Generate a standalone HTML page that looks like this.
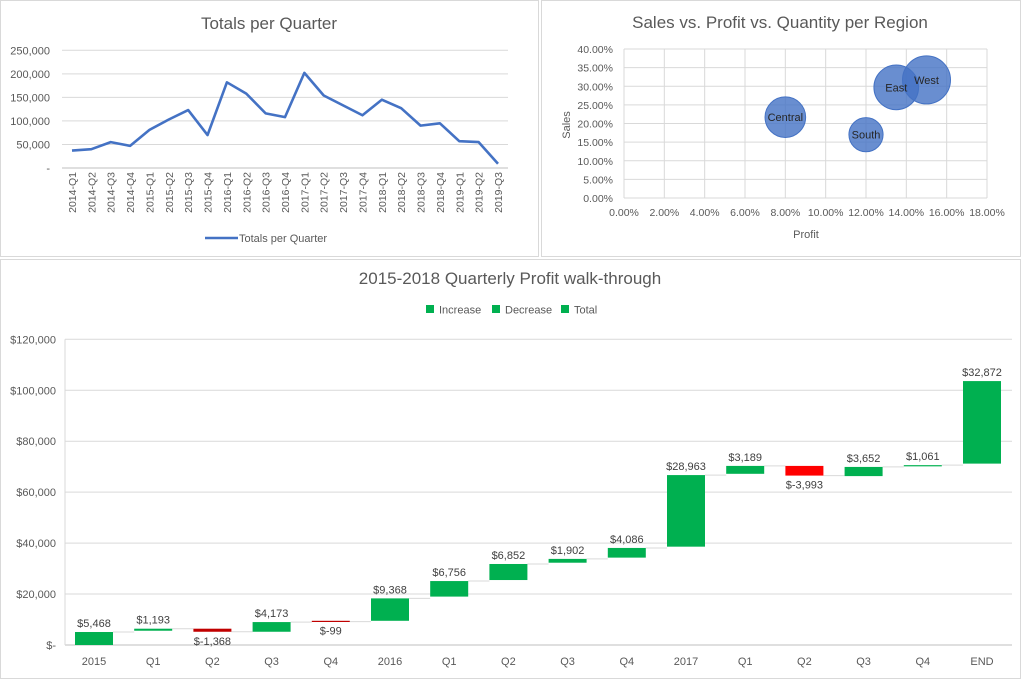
<!DOCTYPE html>
<html><head><meta charset="utf-8"><style>
html,body{margin:0;padding:0;background:#fff;width:1025px;height:682px;overflow:hidden}
svg{display:block;font-family:"Liberation Sans",sans-serif}
</style></head><body>
<svg id="root" width="1025" height="682" viewBox="0 0 1025 682">
<rect x="0.5" y="0.5" width="538" height="256" fill="#fff" stroke="#d9d9d9"/>
<rect x="541.5" y="0.5" width="479" height="256" fill="#fff" stroke="#d9d9d9"/>
<rect x="0.5" y="259.5" width="1020" height="419" fill="#fff" stroke="#d9d9d9"/>
<g id="line"></g><g id="bubble"></g><g id="wf"></g>
</svg>
<script>
// ---- line chart data
const lineCats=["2014-Q1","2014-Q2","2014-Q3","2014-Q4","2015-Q1","2015-Q2","2015-Q3","2015-Q4","2016-Q1","2016-Q2","2016-Q3","2016-Q4","2017-Q1","2017-Q2","2017-Q3","2017-Q4","2018-Q1","2018-Q2","2018-Q3","2018-Q4","2019-Q1","2019-Q2","2019-Q3"];
const lineVals=[37000,40000,55000,47000,81000,103000,123000,70000,182000,158000,116000,108000,202000,154000,133000,112000,145000,127000,90000,95000,57000,55000,9000];
const lineTicks=[0,50000,100000,150000,200000,250000];
const lineTickLabels=["-","50,000","100,000","150,000","200,000","250,000"];
// ---- bubble chart data
const regions=["Central","South","East","West"];
const profitPct=[8.0,12.0,13.5,15.0];
const salesPct=[21.7,17.0,29.7,31.7];
const quantity=[8780,6209,10618,12266];
const bxTicks=[0,2,4,6,8,10,12,14,16,18];
const byTicks=[0,5,10,15,20,25,30,35,40];
// ---- waterfall data
const wfCats=["2015","Q1","Q2","Q3","Q4","2016","Q1","Q2","Q3","Q4","2017","Q1","Q2","Q3","Q4","END"];
const wfStart=[0,5600,6400,5200,9500,9500,19000,25500,32300,34300,38600,67200,70300,66300,70400,71200];
const wfEnd=[5100,6400,5200,9000,9200,18300,25100,31800,33800,38100,66700,70300,66500,69900,70600,103600];
const wfLabels=["$5,468","$1,193","$-1,368","$4,173","$-99","$9,368","$6,756","$6,852","$1,902","$4,086","$28,963","$3,189","$-3,993","$3,652","$1,061","$32,872"];
const wfTicks=[0,20000,40000,60000,80000,100000,120000];
const wfTickLabels=["$-","$20,000","$40,000","$60,000","$80,000","$100,000","$120,000"];

const NS="http://www.w3.org/2000/svg";
function mk(p,tag,a,txt){const e=document.createElementNS(NS,tag);for(const k in a)e.setAttribute(k,a[k]);if(txt!==undefined)e.textContent=txt;p.appendChild(e);return e;}

// ===== Line chart
(function(){
const g=document.getElementById('line');
const x0=72,dx=(498-72)/(lineCats.length-1),yb=168,yt=50.3,vmax=250000;
const X=i=>x0+i*dx, Y=v=>yb-(v/vmax)*(yb-yt);
let t=mk(g,'text',{x:269,y:29,'text-anchor':'middle','font-size':17,fill:'#595959'},'Totals per Quarter');


lineTicks.forEach((v,i)=>{
 let l=mk(g,'line',{x1:62,x2:508,y1:Y(v),y2:Y(v),stroke:i==0?'#bfbfbf':'#d9d9d9','stroke-width':1});
 
 
 let tx=mk(g,'text',{x:50,y:Y(v)+4,'text-anchor':'end','font-size':11,fill:'#595959'},lineTickLabels[i]);
 
 
});
lineCats.forEach((c,i)=>{
 let tx=mk(g,'text',{x:0,y:0,transform:`translate(${X(i)+4},172) rotate(-90)`,'text-anchor':'end','font-size':10.5,fill:'#595959'},c);
 
 
});
let p=mk(g,'polyline',{points:lineVals.map((v,i)=>X(i)+','+Y(v)).join(' '),fill:'none',stroke:'#4472c4','stroke-width':2.6,'stroke-linejoin':'round'});


let ll=mk(g,'line',{x1:205,x2:238,y1:238,y2:238,stroke:'#4472c4','stroke-width':2.6});


let lt=mk(g,'text',{x:239,y:242,'font-size':11,fill:'#595959'},'Totals per Quarter');


})();

// ===== Bubble chart
(function(){
const g=document.getElementById('bubble');
const xl=624,xr=987,yb=198,yt=49;
const X=v=>xl+v/18*(xr-xl), Y=v=>yb-v/40*(yb-yt);
let t=mk(g,'text',{x:780,y:28,'text-anchor':'middle','font-size':17,fill:'#595959'},'Sales vs. Profit vs. Quantity per Region');


bxTicks.forEach(v=>{
 let l=mk(g,'line',{x1:X(v),x2:X(v),y1:yt,y2:yb,stroke:'#d9d9d9'});
 
 
 let tx=mk(g,'text',{x:X(v),y:216,'text-anchor':'middle','font-size':10.5,fill:'#595959'},v.toFixed(2)+'%');
 
 
});
byTicks.forEach(v=>{
 let l=mk(g,'line',{x1:xl,x2:xr,y1:Y(v),y2:Y(v),stroke:'#d9d9d9'});
 
 
 let tx=mk(g,'text',{x:613,y:Y(v)+4,'text-anchor':'end','font-size':10.5,fill:'#595959'},v.toFixed(2)+'%');
 
 
});
let xa=mk(g,'text',{x:806,y:238,'text-anchor':'middle','font-size':11,fill:'#595959'},'Profit');


let ya=mk(g,'text',{x:0,y:0,transform:'translate(570,125) rotate(-90)','text-anchor':'middle','font-size':11,fill:'#595959'},'Sales');


const k=24/Math.sqrt(12266);
regions.forEach((r,i)=>{
 let c=mk(g,'circle',{cx:X(profitPct[i]),cy:Y(salesPct[i]),r:k*Math.sqrt(quantity[i]),fill:'#4472c4','fill-opacity':0.8,stroke:'#4472c4','stroke-width':1});
 
 
});
regions.forEach((r,i)=>{
 let tx=mk(g,'text',{x:X(profitPct[i]),y:Y(salesPct[i])+4,'text-anchor':'middle','font-size':11,fill:'#262626'},r);
 
 
});
})();

// ===== Waterfall
(function(){
const g=document.getElementById('wf');
const yb=645,yt=339.3,vmax=120000,c0=94,dc=(982-94)/15,bw=38;
const X=i=>c0+i*dc, Y=v=>yb-v/vmax*(yb-yt);
let t=mk(g,'text',{x:510,y:284,'text-anchor':'middle','font-size':17,fill:'#595959'},'2015-2018 Quarterly Profit walk-through');


[["Increase",426],["Decrease",492],["Total",561]].forEach(([n,x])=>{
 let s=mk(g,'rect',{x:x,y:305,width:8,height:8,fill:'#00b050'});
 
 
 let tx=mk(g,'text',{x:x+13,y:313.5,'font-size':11,fill:'#595959'},n);
 
 
});
wfTicks.forEach((v,i)=>{
 let l=mk(g,'line',{x1:65,x2:1012,y1:Y(v),y2:Y(v),stroke:i==0?'#bfbfbf':'#d9d9d9'});
 
 
 let tx=mk(g,'text',{x:56,y:Y(v)+4,'text-anchor':'end','font-size':11,fill:'#595959'},wfTickLabels[i]);
 
 
});
let ax=mk(g,'line',{x1:65,x2:65,y1:Y(120000),y2:yb,stroke:'#d9d9d9'});


wfCats.forEach((c,i)=>{
 const s=wfStart[i],e=wfEnd[i],dec=e<s;
 if(i<wfCats.length-1){
  let cl=mk(g,'line',{x1:X(i)+bw/2,x2:X(i+1)-bw/2,y1:Y(e),y2:Y(e),stroke:'#d9d9d9'});
  
  
 }
 const top=Y(Math.max(s,e)),bot=Y(Math.min(s,e));
 let r=mk(g,'rect',{x:X(i)-bw/2,y:top,width:bw,height:Math.max(1.2,bot-top),fill:dec?(i<5?'#c00000':'#ff0000'):'#00b050'});
 
 
 let lb=mk(g,'text',{x:X(i),y:dec?bot+13:top-5,'text-anchor':'middle','font-size':11,fill:'#404040'},wfLabels[i]);
 
 
 let tx=mk(g,'text',{x:X(i),y:665,'text-anchor':'middle','font-size':11,fill:'#595959'},c);
 
 
});
})();
</script>
</body></html>
